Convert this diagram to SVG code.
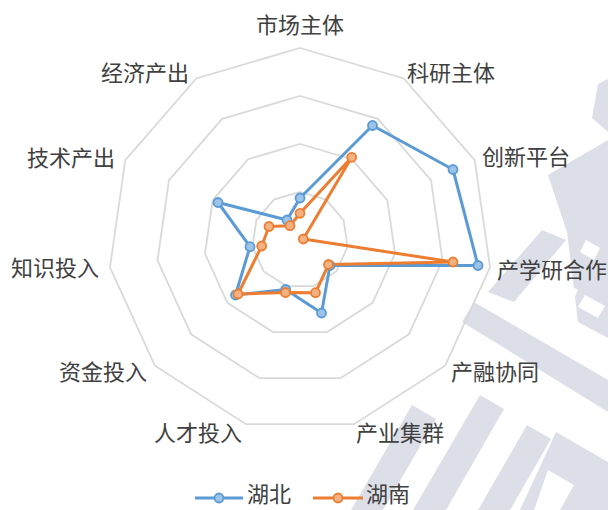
<svg xmlns="http://www.w3.org/2000/svg" width="608" height="510" viewBox="0 0 608 510">
<defs>
<style>
.wm{fill:#DCDFE8}
.wmh{fill:#FFFFFF}
.ring{fill:none;stroke:#D9D9D9;stroke-width:1.8}
.lbl{font-family:"Noto Sans CJK SC","Noto Sans CJK TC",sans-serif;font-size:22px;fill:#404040}
.hb{fill:none;stroke:#5B9BD5;stroke-width:3;stroke-linejoin:round}
.hn{fill:none;stroke:#ED7D31;stroke-width:3;stroke-linejoin:round}
.mhb{fill:#9DC3E6;stroke:#5B9BD5;stroke-width:1.8}
.mhn{fill:#F4B183;stroke:#ED7D31;stroke-width:1.8}
</style>
</defs>
<rect width="608" height="510" fill="#FFFFFF"/>
<g id="watermark">
<polygon class="wm" points="598,84 608,79 608,132 592,118"/>
<polygon class="wm" points="548,175 608,140 608,338 578,322 567,232"/>
<polygon class="wmh" points="586,240 600,248 594,260 580,252"/>
<polygon class="wmh" points="560,280 578,290 572,302 554,292"/>
<polygon class="wmh" points="585,295 605,306 598,318 578,307"/>
<polygon class="wm" points="488,292 542,230 566,240 514,302"/>
<polygon class="wm" points="462,322 474,302 608,380 608,412"/>
<polygon class="wm" points="412,405 436,419 383,510 351,510"/>
<polygon class="wm" points="480,395 504,409 446,510 413,510"/>
<polygon class="wm" points="527,425 551,439 510,510 478,510"/>
<polygon class="wm" points="556,432 608,462 608,510 520,510"/>
<polygon class="wmh" points="548,470 574,485 560,510 534,510"/>
</g>
<g id="grid">
<polygon class="ring" points="300,192 325.95,199.62 343.66,220.06 347.51,246.83 336.28,271.43 313.52,286.06 286.48,286.06 263.72,271.43 252.49,246.83 256.34,220.06 274.05,199.62"/>
<polygon class="ring" points="300,144 351.9,159.24 387.32,200.12 395.02,253.66 372.55,302.87 327.05,332.11 272.95,332.11 227.45,302.87 204.98,253.66 212.68,200.12 248.1,159.24"/>
<polygon class="ring" points="300,96 377.85,118.86 430.99,180.18 442.53,260.49 408.83,334.3 340.57,378.17 259.43,378.17 191.17,334.3 157.47,260.49 169.01,180.18 222.15,118.86"/>
<polygon class="ring" points="300,48 403.8,78.48 474.65,160.24 490.05,267.32 445.1,365.73 354.09,424.22 245.91,424.22 154.9,365.73 109.95,267.32 125.35,160.24 196.2,78.48"/>
</g>
<g id="labels">
<text class="lbl" id="axis-shichang" x="256" y="33">市场主体</text>
<text class="lbl" id="axis-keyan" x="407" y="81">科研主体</text>
<text class="lbl" id="axis-chuangxin" x="482" y="165">创新平台</text>
<text class="lbl" id="axis-chanxueyan" x="497" y="278">产学研合作</text>
<text class="lbl" id="axis-chanrong" x="451" y="380">产融协同</text>
<text class="lbl" id="axis-chanye" x="356" y="441">产业集群</text>
<text class="lbl" id="axis-rencai" x="154" y="441">人才投入</text>
<text class="lbl" id="axis-zijin" x="59" y="380">资金投入</text>
<text class="lbl" id="axis-zhishi" x="11" y="276">知识投入</text>
<text class="lbl" id="axis-jishu" x="27" y="166">技术产出</text>
<text class="lbl" id="axis-jingji" x="101" y="81">经济产出</text>
</g>
<g id="connectors">
<polygon id="series-hubei" class="hb" points="300,198 372.5,125.5 453,169.5 478,265.5 330,265.5 321.5,313 285.7,289.5 235.5,295 250,246.7 218,202.5 287,220"/>
<polygon id="series-hunan" class="hn" points="300,213.3 351.7,157.3 303.3,239 453,262 328.5,264.5 315.5,292.7 285.5,292.5 238,294 261.7,246 269,226.5 290,225.7"/>
</g>
<g id="markers-hubei">
<circle class="mhb" cx="300" cy="198" r="4.5"/>
<circle class="mhb" cx="372.5" cy="125.5" r="4.5"/>
<circle class="mhb" cx="453" cy="169.5" r="4.5"/>
<circle class="mhb" cx="478" cy="265.5" r="4.5"/>
<circle class="mhb" cx="330" cy="265.5" r="4.5"/>
<circle class="mhb" cx="321.5" cy="313" r="4.5"/>
<circle class="mhb" cx="285.7" cy="289.5" r="4.5"/>
<circle class="mhb" cx="235.5" cy="295" r="4.5"/>
<circle class="mhb" cx="250" cy="246.7" r="4.5"/>
<circle class="mhb" cx="218" cy="202.5" r="4.5"/>
<circle class="mhb" cx="287" cy="220" r="4.5"/>
</g>
<g id="markers-hunan">
<circle class="mhn" cx="300" cy="213.3" r="4.5"/>
<circle class="mhn" cx="351.7" cy="157.3" r="4.5"/>
<circle class="mhn" cx="303.3" cy="239" r="4.5"/>
<circle class="mhn" cx="453" cy="262" r="4.5"/>
<circle class="mhn" cx="328.5" cy="264.5" r="4.5"/>
<circle class="mhn" cx="315.5" cy="292.7" r="4.5"/>
<circle class="mhn" cx="285.5" cy="292.5" r="4.5"/>
<circle class="mhn" cx="238" cy="294" r="4.5"/>
<circle class="mhn" cx="261.7" cy="246" r="4.5"/>
<circle class="mhn" cx="269" cy="226.5" r="4.5"/>
<circle class="mhn" cx="290" cy="225.7" r="4.5"/>
</g>
<g id="legend">
<line x1="195" y1="498" x2="243" y2="498" stroke="#5B9BD5" stroke-width="3"/>
<circle class="mhb" cx="219" cy="498" r="4.5"/>
<text class="lbl" x="247" y="502" font-size="20">湖北</text>
<line x1="313" y1="498" x2="363" y2="498" stroke="#ED7D31" stroke-width="3"/>
<circle class="mhn" cx="338" cy="498" r="4.5"/>
<text class="lbl" x="366" y="502" font-size="20">湖南</text>
</g>
</svg>
